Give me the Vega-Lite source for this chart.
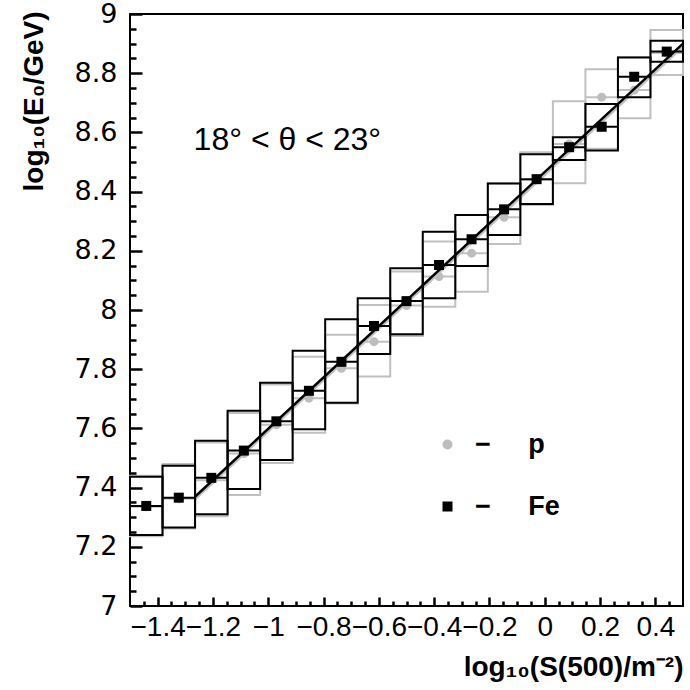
{
  "$schema": "https://vega.github.io/schema/vega-lite/v6.json",
  "width": 553,
  "height": 592,
  "autosize": {"type": "none"},
  "padding": {"left": 130, "top": 14, "right": 7, "bottom": 84},
  "background": "white",
  "config": {
    "view": {"stroke": "black", "strokeWidth": 2},
    "font": "Liberation Sans"
  },
  "datasets": {
    "bins": [
      {"series": "p", "xlo": -1.5, "xhi": -1.38235, "xc": -1.44118, "mean": 7.335, "lo": 7.236, "hi": 7.44},
      {"series": "p", "xlo": -1.38235, "xhi": -1.26471, "xc": -1.32353, "mean": 7.362, "lo": 7.262, "hi": 7.48},
      {"series": "p", "xlo": -1.26471, "xhi": -1.14706, "xc": -1.20588, "mean": 7.425, "lo": 7.303, "hi": 7.552},
      {"series": "p", "xlo": -1.14706, "xhi": -1.02941, "xc": -1.08824, "mean": 7.515, "lo": 7.375, "hi": 7.652},
      {"series": "p", "xlo": -1.02941, "xhi": -0.91176, "xc": -0.97059, "mean": 7.612, "lo": 7.483, "hi": 7.748},
      {"series": "p", "xlo": -0.91176, "xhi": -0.79412, "xc": -0.85294, "mean": 7.702, "lo": 7.585, "hi": 7.842},
      {"series": "p", "xlo": -0.79412, "xhi": -0.67647, "xc": -0.73529, "mean": 7.803, "lo": 7.684, "hi": 7.916},
      {"series": "p", "xlo": -0.67647, "xhi": -0.55882, "xc": -0.61765, "mean": 7.893, "lo": 7.775, "hi": 8.017},
      {"series": "p", "xlo": -0.55882, "xhi": -0.44118, "xc": -0.5, "mean": 8.015, "lo": 7.912, "hi": 8.13},
      {"series": "p", "xlo": -0.44118, "xhi": -0.32353, "xc": -0.38235, "mean": 8.113, "lo": 8.011, "hi": 8.231},
      {"series": "p", "xlo": -0.32353, "xhi": -0.20588, "xc": -0.26471, "mean": 8.192, "lo": 8.062, "hi": 8.321},
      {"series": "p", "xlo": -0.20588, "xhi": -0.08824, "xc": -0.14706, "mean": 8.313, "lo": 8.223, "hi": 8.428},
      {"series": "p", "xlo": -0.08824, "xhi": 0.02941, "xc": -0.02941, "mean": 8.44, "lo": 8.355, "hi": 8.533},
      {"series": "p", "xlo": 0.02941, "xhi": 0.14706, "xc": 0.08824, "mean": 8.561, "lo": 8.428, "hi": 8.705},
      {"series": "p", "xlo": 0.14706, "xhi": 0.26471, "xc": 0.20588, "mean": 8.719, "lo": 8.545, "hi": 8.813},
      {"series": "p", "xlo": 0.26471, "xhi": 0.38235, "xc": 0.32353, "mean": 8.743, "lo": 8.648, "hi": 8.855},
      {"series": "p", "xlo": 0.38235, "xhi": 0.5, "xc": 0.44118, "mean": 8.868, "lo": 8.794, "hi": 8.946},
      {"series": "Fe", "xlo": -1.5, "xhi": -1.38235, "xc": -1.44118, "mean": 7.338, "lo": 7.24, "hi": 7.437},
      {"series": "Fe", "xlo": -1.38235, "xhi": -1.26471, "xc": -1.32353, "mean": 7.366, "lo": 7.265, "hi": 7.474},
      {"series": "Fe", "xlo": -1.26471, "xhi": -1.14706, "xc": -1.20588, "mean": 7.433, "lo": 7.31, "hi": 7.558},
      {"series": "Fe", "xlo": -1.14706, "xhi": -1.02941, "xc": -1.08824, "mean": 7.525, "lo": 7.395, "hi": 7.66},
      {"series": "Fe", "xlo": -1.02941, "xhi": -0.91176, "xc": -0.97059, "mean": 7.624, "lo": 7.493, "hi": 7.754},
      {"series": "Fe", "xlo": -0.91176, "xhi": -0.79412, "xc": -0.85294, "mean": 7.727, "lo": 7.597, "hi": 7.862},
      {"series": "Fe", "xlo": -0.79412, "xhi": -0.67647, "xc": -0.73529, "mean": 7.825, "lo": 7.687, "hi": 7.969},
      {"series": "Fe", "xlo": -0.67647, "xhi": -0.55882, "xc": -0.61765, "mean": 7.946, "lo": 7.851, "hi": 8.04},
      {"series": "Fe", "xlo": -0.55882, "xhi": -0.44118, "xc": -0.5, "mean": 8.03, "lo": 7.918, "hi": 8.141},
      {"series": "Fe", "xlo": -0.44118, "xhi": -0.32353, "xc": -0.38235, "mean": 8.152, "lo": 8.04, "hi": 8.264},
      {"series": "Fe", "xlo": -0.32353, "xhi": -0.20588, "xc": -0.26471, "mean": 8.239, "lo": 8.149, "hi": 8.321},
      {"series": "Fe", "xlo": -0.20588, "xhi": -0.08824, "xc": -0.14706, "mean": 8.34, "lo": 8.253, "hi": 8.427},
      {"series": "Fe", "xlo": -0.08824, "xhi": 0.02941, "xc": -0.02941, "mean": 8.442, "lo": 8.358, "hi": 8.526},
      {"series": "Fe", "xlo": 0.02941, "xhi": 0.14706, "xc": 0.08824, "mean": 8.55, "lo": 8.507, "hi": 8.584},
      {"series": "Fe", "xlo": 0.14706, "xhi": 0.26471, "xc": 0.20588, "mean": 8.619, "lo": 8.539, "hi": 8.696},
      {"series": "Fe", "xlo": 0.26471, "xhi": 0.38235, "xc": 0.32353, "mean": 8.788, "lo": 8.719, "hi": 8.853},
      {"series": "Fe", "xlo": 0.38235, "xhi": 0.5, "xc": 0.44118, "mean": 8.873, "lo": 8.839, "hi": 8.91}
    ],
    "fits": [
      {"series": "p", "x": -1.265, "y": 7.36},
      {"series": "p", "x": 0.5, "y": 8.89},
      {"series": "Fe", "x": -1.265, "y": 7.369},
      {"series": "Fe", "x": 0.5, "y": 8.9}
    ],
    "notes": [
      {"label": "18° < θ < 23°", "x": -1.27, "y": 8.54}
    ]
  },
  "resolve": {"axis": {"x": "independent", "y": "independent"}},
  "layer": [
    {
      "data": {"name": "bins"},
      "transform": [{"filter": "datum.series === 'p'"}],
      "mark": {"type": "rect", "filled": false, "stroke": "#c0c0c0", "strokeWidth": 2},
      "encoding": {
        "x": {"field": "xlo", "type": "quantitative",
          "scale": {"domain": [-1.5, 0.5], "nice": false, "zero": false},
          "axis": {"orient": "bottom", "offset": -9, "zindex": 1, "values": [-1.4, -1.2, -1, -0.8, -0.6, -0.4, -0.2, 0, 0.2, 0.4],
            "format": "~g", "grid": false, "domain": false, "ticks": true, "tickSize": 9, "tickWidth": 2.5, "tickColor": "black",
            "labelFont": "Liberation Sans", "labelFontSize": 28,
            "labelColor": "black", "labelPadding": 7, "labelFlush": false, "labelOverlap": false,
            "title": "log₁₀(S(500)/m⁻²)", "titleFont": "Liberation Sans", "titleFontSize": 28,
            "titleFontWeight": "bold", "titleColor": "black", "titleAlign": "right", "titleAnchor": "end",
            "titleX": 553, "titleY": 78, "titleBaseline": "alphabetic"}},
        "x2": {"field": "xhi"},
        "y": {"field": "lo", "type": "quantitative",
          "scale": {"domain": [7, 9], "nice": false, "zero": false},
          "axis": {"orient": "left", "offset": -12, "zindex": 1, "values": [7, 7.2, 7.4, 7.6, 7.8, 8, 8.2, 8.4, 8.6, 8.8, 9],
            "format": "~g", "grid": false, "domain": false, "ticks": true, "tickSize": 12, "tickWidth": 2.5, "tickColor": "black",
            "labelFont": "DejaVu Sans", "labelFontSize": 27,
            "labelColor": "black", "labelPadding": 13, "labelFlush": false, "labelOverlap": false,
            "title": "log₁₀(E₀/GeV)", "titleFont": "Liberation Sans", "titleFontSize": 28,
            "titleFontWeight": "bold", "titleColor": "black", "titleAngle": 270, "titleAlign": "right",
            "titleAnchor": "end", "titleX": -100, "titleY": -3, "titleBaseline": "alphabetic"}},
        "y2": {"field": "hi"}
      }
    },
    {
      "data": {"name": "bins"},
      "transform": [{"filter": "datum.series === 'p'"}],
      "mark": {"type": "rule", "stroke": "#c0c0c0", "strokeWidth": 2},
      "encoding": {
        "x": {"field": "xlo", "type": "quantitative", "axis": null},
        "x2": {"field": "xhi"},
        "y": {"field": "mean", "type": "quantitative", "axis": null}
      }
    },
    {
      "data": {"name": "bins"},
      "transform": [{"filter": "datum.series === 'p'"}],
      "mark": {"type": "point", "filled": true, "size": 80, "opacity": 1},
      "encoding": {
        "x": {"field": "xc", "type": "quantitative", "axis": null},
        "y": {"field": "mean", "type": "quantitative", "axis": null},
        "color": {"field": "series", "type": "nominal",
          "scale": {"domain": ["p", "Fe"], "range": ["#bdbdbd", "black"]},
          "legend": {"orient": "none", "legendX": 304, "legendY": 417, "title": null, "padding": 0,
            "rowPadding": 34, "labelFont": "Liberation Sans", "labelFontWeight": "bold", "labelFontSize": 27,
            "labelColor": "black", "labelOffset": 14, "symbolSize": 100, "symbolStrokeWidth": 0,
            "labelExpr": "'−\u00a0\u00a0\u00a0\u00a0\u00a0' + datum.label"}},
        "shape": {"field": "series", "type": "nominal",
          "scale": {"domain": ["p", "Fe"], "range": ["circle", "square"]},
          "legend": {"orient": "none", "legendX": 304, "legendY": 417, "title": null, "padding": 0,
            "rowPadding": 34, "labelFont": "Liberation Sans", "labelFontWeight": "bold", "labelFontSize": 27,
            "labelColor": "black", "labelOffset": 14, "symbolSize": 100, "symbolStrokeWidth": 0,
            "labelExpr": "'−\u00a0\u00a0\u00a0\u00a0\u00a0' + datum.label"}}
      }
    },
    {
      "data": {"name": "fits"},
      "transform": [{"filter": "datum.series === 'p'"}],
      "mark": {"type": "line", "stroke": "#c0c0c0", "strokeWidth": 2.5},
      "encoding": {
        "x": {"field": "x", "type": "quantitative", "axis": null},
        "y": {"field": "y", "type": "quantitative", "axis": null}
      }
    },
    {
      "data": {"name": "bins"},
      "transform": [{"filter": "datum.series === 'Fe'"}],
      "mark": {"type": "rect", "filled": false, "stroke": "black", "strokeWidth": 2},
      "encoding": {
        "x": {"field": "xlo", "type": "quantitative",
          "axis": {"orient": "bottom", "offset": -5, "zindex": 1, "values": [-1.45, -1.35, -1.3, -1.25, -1.15, -1.1, -1.05, -0.95, -0.9, -0.85, -0.75, -0.7, -0.65, -0.55, -0.5, -0.45, -0.35, -0.3, -0.25, -0.15, -0.1, -0.05, 0.05, 0.1, 0.15, 0.25, 0.3, 0.35, 0.45],
            "grid": false, "ticks": true, "tickSize": 5, "tickWidth": 2.5, "tickColor": "black", "labels": false,
            "domain": false, "title": null}},
        "x2": {"field": "xhi"},
        "y": {"field": "lo", "type": "quantitative",
          "axis": {"orient": "left", "offset": -6, "zindex": 1, "values": [7.05, 7.1, 7.15, 7.25, 7.3, 7.35, 7.45, 7.5, 7.55, 7.65, 7.7, 7.75, 7.85, 7.9, 7.95, 8.05, 8.1, 8.15, 8.25, 8.3, 8.35, 8.45, 8.5, 8.55, 8.65, 8.7, 8.75, 8.85, 8.9, 8.95],
            "grid": false, "ticks": true, "tickSize": 6, "tickWidth": 2.5, "tickColor": "black", "labels": false,
            "domain": false, "title": null}},
        "y2": {"field": "hi"}
      }
    },
    {
      "data": {"name": "bins"},
      "transform": [{"filter": "datum.series === 'Fe'"}],
      "mark": {"type": "rule", "stroke": "black", "strokeWidth": 2},
      "encoding": {
        "x": {"field": "xlo", "type": "quantitative", "axis": null},
        "x2": {"field": "xhi"},
        "y": {"field": "mean", "type": "quantitative", "axis": null}
      }
    },
    {
      "data": {"name": "bins"},
      "transform": [{"filter": "datum.series === 'Fe'"}],
      "mark": {"type": "point", "filled": true, "size": 100, "opacity": 1},
      "encoding": {
        "x": {"field": "xc", "type": "quantitative", "axis": null},
        "y": {"field": "mean", "type": "quantitative", "axis": null},
        "color": {"field": "series", "type": "nominal"},
        "shape": {"field": "series", "type": "nominal"}
      }
    },
    {
      "data": {"name": "fits"},
      "transform": [{"filter": "datum.series === 'Fe'"}],
      "mark": {"type": "line", "stroke": "black", "strokeWidth": 2.5},
      "encoding": {
        "x": {"field": "x", "type": "quantitative", "axis": null},
        "y": {"field": "y", "type": "quantitative", "axis": null}
      }
    },
    {
      "data": {"name": "notes"},
      "mark": {"type": "text", "font": "Liberation Sans", "fontSize": 32, "align": "left", "baseline": "alphabetic", "color": "black"},
      "encoding": {
        "x": {"field": "x", "type": "quantitative", "axis": null},
        "y": {"field": "y", "type": "quantitative", "axis": null},
        "text": {"field": "label"}
      }
    }
  ]
}
